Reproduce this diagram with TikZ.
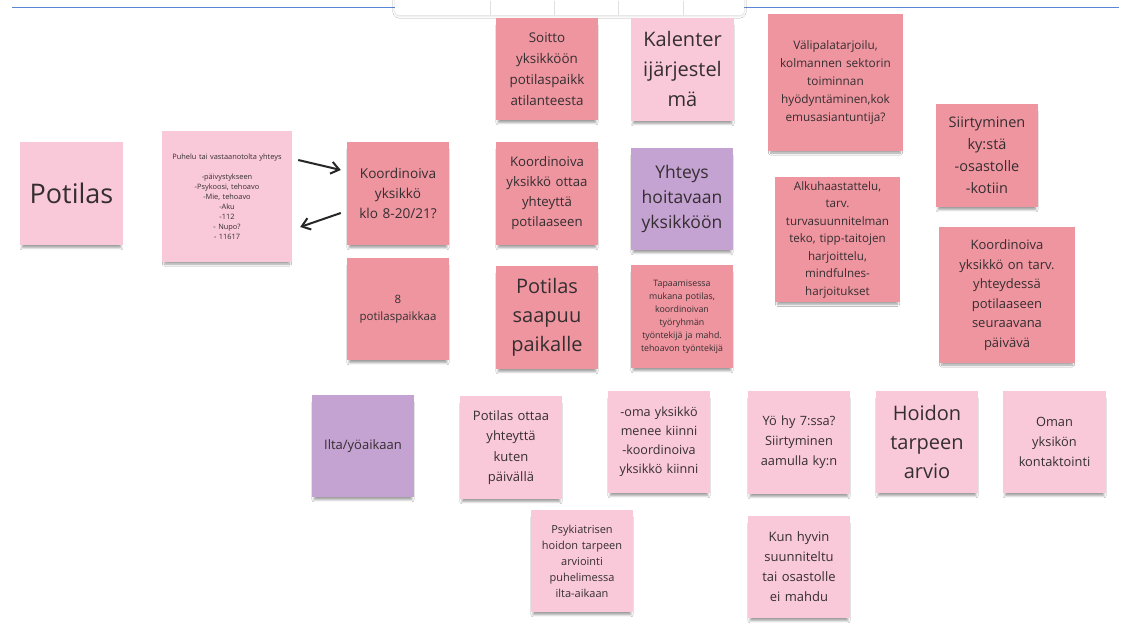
\documentclass[tikz,border=0pt]{standalone}
\usepackage{fontspec}
\setmainfont{Open Sans}
\usetikzlibrary{shadows.blur,calc,arrows.meta}
\definecolor{darkpink}{HTML}{EE959F}
\definecolor{lightpink}{HTML}{F9C9D9}
\definecolor{lilac}{HTML}{C4A2D2}
\definecolor{notetext}{HTML}{352E31}
\definecolor{uiblue}{HTML}{5B86D6}
\newcommand{\fs}[2]{\fontsize{#1}{#2}\selectfont}
\tikzset{
  note/.style={draw=none, align=center, inner sep=2pt, text=notetext,
    blur shadow={shadow xshift=0pt, shadow yshift=-5pt, shadow blur steps=7, shadow opacity=38, shadow scale=0.96}},
  dnote/.style={note, fill=darkpink},
  lnote/.style={note, fill=lightpink},
  pnote/.style={note, fill=lilac},
  sz/.style n args={2}{minimum width=#1, minimum height=#2, text width=#1-6},
  f/.style n args={2}{font=\fs{#1}{#2}},
  arr/.style={draw=black!85, line width=2pt, -{Straight Barb[length=8pt,width=12pt,line width=2pt]}}
}
\begin{document}
\begin{tikzpicture}[x=1pt,y=-1pt]
\fill[white] (0,0) rectangle (1122,628);
\useasboundingbox (0,0) rectangle (1122,628);
% UI frame
\draw[uiblue, line width=0.8pt] (12,7) -- (1119,7);
\fill[white, blur shadow={shadow xshift=0pt, shadow yshift=-1pt, shadow opacity=15}] (395,-6) [rounded corners=4pt] -- (395,15) -- (744,15) -- (744,-6) -- cycle;
\foreach \sx in {490,554,618,683} \draw[black!12, line width=0.6pt] (\sx,1) -- (\sx,15);

% notes
\node[lnote, sz={103}{103}, f={27}{32}] (potilas) at (71.5,193.5) {Potilas};
\node[lnote, sz={130}{131}, text width=126, f={7.4}{10}] (puhelu) at (227,196.5) {Puhelu tai vastaanotolta yhteys\\[10pt]-päivystykseen\\-Psykoosi, tehoavo\\-Mie, tehoavo\\-Aku\\-112\\- Nupo?\\- 11617};
\node[dnote, sz={102}{103}, f={13.6}{20}] (koord) at (398,193.5) {Koordinoiva\\yksikkö\\klo 8-20/21?};
\node[dnote, sz={102}{102}, f={11.5}{17}] (paikat) at (398,309) {8\\potilaspaikkaa};
\node[dnote, sz={102}{102}, f={13.4}{21}] (soitto) at (547,69) {Soitto\\yksikköön\\potilaspaikk\\atilanteesta};
\node[dnote, sz={102}{103}, f={13.2}{20}] (ottaa) at (547,193.5) {Koordinoiva\\yksikkö ottaa\\yhteyttä\\potilaaseen};
\node[dnote, sz={102}{103}, f={20}{29}] (saapuu) at (547,317.5) {Potilas\\saapuu\\paikalle};
\node[lnote, sz={103}{103}, f={20}{30}] (kalenteri) at (682.5,69.5) {Kalenter\\ijärjestel\\mä};
\node[pnote, sz={102}{102}, f={17.5}{25}] (yhteys) at (682,199) {Yhteys\\hoitavaan\\yksikköön};
\node[dnote, sz={102}{103}, f={8.8}{13}] (tapaaminen) at (682,316.5) {Tapaamisessa\\mukana potilas,\\koordinoivan\\työryhmän\\työntekijä ja mahd.\\tehoavon työntekijä};
\node[dnote, sz={135}{137}, f={11.8}{18}] (valipala) at (835.5,82.5) {Välipalatarjoilu,\\kolmannen sektorin\\toiminnan\\hyödyntäminen,kok\\emusasiantuntija?};
\node[dnote, sz={125}{125}, f={11.6}{17.5}] (alku) at (837.5,239.5) {Alkuhaastattelu,\\tarv.\\turvasuunnitelman\\teko, tipp-taitojen\\harjoittelu,\\mindfulnes-\\harjoitukset};
\node[dnote, sz={102}{103}, f={14.5}{22}] (siirty) at (987,155.5) {Siirtyminen\\ky:stä\\-osastolle\\-kotiin};
\node[dnote, sz={136}{136}, f={13}{19.5}] (seuraava) at (1007,295) {Koordinoiva\\yksikkö on tarv.\\yhteydessä\\potilaaseen\\seuraavana\\päivävä};
\node[pnote, sz={102}{102}, f={13}{19}] (ilta) at (363,446) {Ilta/yöaikaan};
\node[lnote, sz={102}{103}, f={13}{20.5}] (kutenpaiv) at (511,447.5) {Potilas ottaa\\yhteyttä\\kuten\\päivällä};
\node[lnote, sz={102}{102}, f={12.6}{19}] (kiinni) at (659,442) {-oma yksikkö\\menee kiinni\\-koordinoiva\\yksikkö kiinni};
\node[lnote, sz={102}{103}, f={12.8}{20}] (yohy) at (799,442.5) {Yö hy 7:ssa?\\Siirtyminen\\aamulla ky:n};
\node[lnote, sz={102}{102}, f={20}{29}] (hoidon) at (927,442) {Hoidon\\tarpeen\\arvio};
\node[lnote, sz={103}{102}, f={12.8}{20}] (oman) at (1054.5,442) {Oman\\yksikön\\kontaktointi};
\node[lnote, sz={102}{102}, f={11}{16}] (psyk) at (582,561) {Psykiatrisen\\hoidon tarpeen\\arviointi\\puhelimessa\\ilta-aikaan};
\node[lnote, sz={102}{102}, f={13}{20}] (kun) at (799,567) {Kun hyvin\\suunniteltu\\tai osastolle\\ei mahdu};

% arrows
\draw[arr] ($(puhelu.east)+(6,-36.5)$) -- ($(koord.west)+(-6,-23.5)$);
\draw[arr] ($(koord.west)+(-6,19.5)$) -- ($(puhelu.east)+(8,30.5)$);
\end{tikzpicture}
\end{document}
